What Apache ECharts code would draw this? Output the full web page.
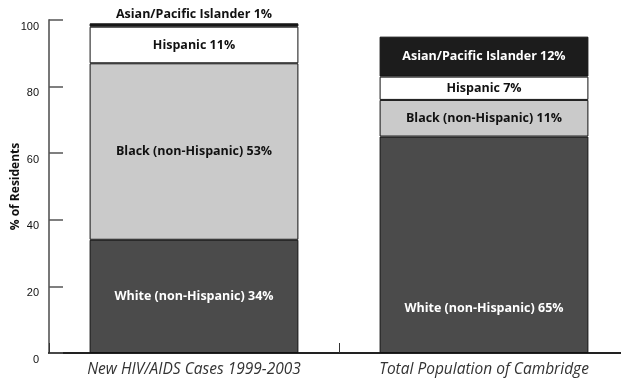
<!DOCTYPE html>
<html>
<head>
<meta charset="utf-8">
<script src="https://cdn.jsdelivr.net/npm/echarts@6/dist/echarts.min.js"></script>
<style>
  html, body { margin: 0; padding: 0; background: #fff; }
  #chart { width: 621px; height: 379px; }
</style>
</head>
<body>
<div id="chart"></div>
<script>
// Share of residents by race/ethnicity
const categories = ['New HIV/AIDS Cases 1999-2003', 'Total Population of Cambridge'];
const groupNames = ['White (non-Hispanic)', 'Black (non-Hispanic)', 'Hispanic', 'Asian/Pacific Islander'];
const whiteValues = [34, 65];
const blackValues = [53, 11];
const hispanicValues = [11, 7];
const asianValues = [1, 12];
const yTicks = [0, 20, 40, 60, 80, 100];

const labelFont = { fontFamily: 'Open Sans', fontWeight: 'bold', fontSize: 12.5 };
const fmt = p => p.seriesName + ' ' + p.value + '%';

function makeSeries(name, values, color, textColor, itemOverrides) {
  return {
    name: name,
    type: 'bar',
    stack: 'total',
    barWidth: '72%',
    itemStyle: { color: color, borderColor: '#111', borderWidth: 1 },
    label: Object.assign({ show: true, position: 'inside', color: textColor, formatter: fmt }, labelFont),
    data: values.map((v, i) => Object.assign({ value: v }, (itemOverrides && itemOverrides[i]) || {}))
  };
}

const chart = echarts.init(document.getElementById('chart'), null, { renderer: 'canvas' });
chart.setOption({
  animation: false,
  grid: { left: 49, right: -8, top: 20, bottom: 26, containLabel: false, outerBoundsMode: 'none' },
  xAxis: {
    type: 'category',
    data: categories,
    axisLine: { lineStyle: { color: '#222', width: 2 } },
    axisTick: { show: true, inside: true, length: 10, lineStyle: { color: '#333', width: 1 } },
    axisLabel: { margin: 9, fontFamily: 'Open Sans', fontStyle: 'italic', fontSize: 15.5, color: '#333' }
  },
  yAxis: {
    type: 'value',
    min: yTicks[0],
    max: yTicks[yTicks.length - 1],
    interval: 20,
    name: '% of Residents',
    nameLocation: 'middle',
    nameRotate: 90,
    nameGap: 27,
    nameMoveOverlap: false,
    nameTextStyle: { fontFamily: 'Open Sans', fontWeight: 'bold', fontSize: 12, color: '#111' },
    splitLine: { show: false },
    axisLine: { show: true, lineStyle: { color: '#777', width: 2 } },
    axisTick: { show: true, inside: true, length: 14, lineStyle: { color: '#555', width: 1.5 } },
    axisLabel: { margin: 10, fontFamily: 'Liberation Sans', fontSize: 11, color: '#111', verticalAlign: 'top', padding: [1, 0, 0, 0] }
  },
  series: [
    makeSeries(groupNames[0], whiteValues, '#4b4b4b', '#fff', [null, { label: { offset: [0, 64] } }]),
    makeSeries(groupNames[1], blackValues, '#cacaca', '#111'),
    makeSeries(groupNames[2], hispanicValues, '#ffffff', '#111'),
    makeSeries(groupNames[3], asianValues, '#1c1c1c', '#fff',
      [{ label: { position: 'top', color: '#111', distance: 2 } }, null])
  ]
});
</script>
</body>
</html>
